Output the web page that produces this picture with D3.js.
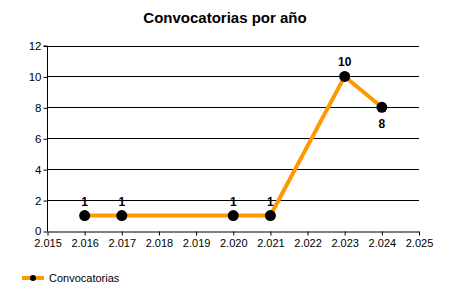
<!DOCTYPE html>
<html>
<head>
<meta charset="utf-8">
<script src="https://cdn.jsdelivr.net/npm/d3@7"></script>
<style>
  body { margin: 0; background: #fff; }
  text { font-family: "Liberation Sans", Arial, sans-serif; fill: #000; }
</style>
</head>
<body>
<svg id="chart" width="450" height="300"></svg>
<script>
// data
var years = [2016, 2017, 2020, 2021, 2023, 2024];
var counts = [1, 1, 1, 1, 10, 8];
var xTicks = [2015, 2016, 2017, 2018, 2019, 2020, 2021, 2022, 2023, 2024, 2025];
var yTicks = [0, 2, 4, 6, 8, 10, 12];
var labelBelow = [false, false, false, false, false, true];

var width = 450, height = 300;
var margin = { top: 45.5, right: 31, bottom: 69, left: 47.5 };

var svg = d3.select("#chart");

var x = d3.scaleLinear()
    .domain([2015, 2025])
    .range([margin.left, width - margin.right]);
var y = d3.scaleLinear()
    .domain([0, 12])
    .range([height - margin.bottom, margin.top]);

// thousand separator like "2.015"
var fmtYear = function(d) { return String(d).replace(/(\d)(\d{3})$/, "$1.$2"); };

// title
svg.append("text")
    .attr("x", 225)
    .attr("y", 23)
    .attr("text-anchor", "middle")
    .style("font-size", "15px")
    .style("font-weight", "bold")
    .text("Convocatorias por año");

// horizontal grid
svg.append("g")
    .selectAll("line")
    .data(yTicks.filter(d => d > 0))
    .enter().append("line")
    .attr("x1", margin.left)
    .attr("x2", width - margin.right)
    .attr("y1", d => Math.round(y(d)) + 0.5)
    .attr("y2", d => Math.round(y(d)) + 0.5)
    .attr("stroke", "#000")
    .attr("stroke-width", 1);

// axes
var yAxis = g => g
    .attr("transform", "translate(" + margin.left + ",0.5)")
    .call(d3.axisLeft(y).tickValues(yTicks).tickSize(4).tickPadding(2))
    .call(g => g.selectAll("text").style("font-size", "11.5px").attr("dy", "0.3em"));

var xAxis = g => g
    .attr("transform", "translate(0," + (Math.round(y(0)) + 0.5) + ")")
    .call(d3.axisBottom(x).tickValues(xTicks).tickFormat(fmtYear).tickSize(4).tickSizeOuter(0).tickPadding(4))
    .call(g => g.selectAll("text").style("font-size", "11px"));

svg.append("g").call(yAxis)
    .call(g => g.select(".domain").attr("d", "M-4," + y(12) + "H0V" + y(0)));
svg.append("g").call(xAxis);

// series
var pts = years.map((yr, i) => ({ year: yr, value: counts[i], below: labelBelow[i] }));

var line = d3.line()
    .x(d => x(d.year))
    .y(d => y(d.value));

svg.append("path")
    .datum(pts)
    .attr("d", line)
    .attr("fill", "none")
    .attr("stroke", "#FF9900")
    .attr("stroke-width", 4)
    .attr("stroke-linejoin", "round");

svg.append("g")
    .selectAll("circle")
    .data(pts)
    .enter().append("circle")
    .attr("cx", d => x(d.year))
    .attr("cy", d => y(d.value))
    .attr("r", 5.5)
    .attr("fill", "#000");

svg.append("g")
    .selectAll("text")
    .data(pts)
    .enter().append("text")
    .attr("x", d => x(d.year))
    .attr("y", d => d.below ? y(d.value) + 21 : y(d.value) - 10)
    .attr("text-anchor", "middle")
    .style("font-size", "12px")
    .style("font-weight", "bold")
    .text(d => d.value);

// legend
var legend = svg.append("g").attr("transform", "translate(22,278)");
legend.append("line")
    .attr("x1", 0).attr("x2", 22)
    .attr("stroke", "#FF9900")
    .attr("stroke-width", 4);
legend.append("circle")
    .attr("cx", 11).attr("r", 3)
    .attr("fill", "#000");
legend.append("text")
    .attr("x", 27)
    .attr("y", 4)
    .style("font-size", "11px")
    .text("Convocatorias");
</script>
</body>
</html>
